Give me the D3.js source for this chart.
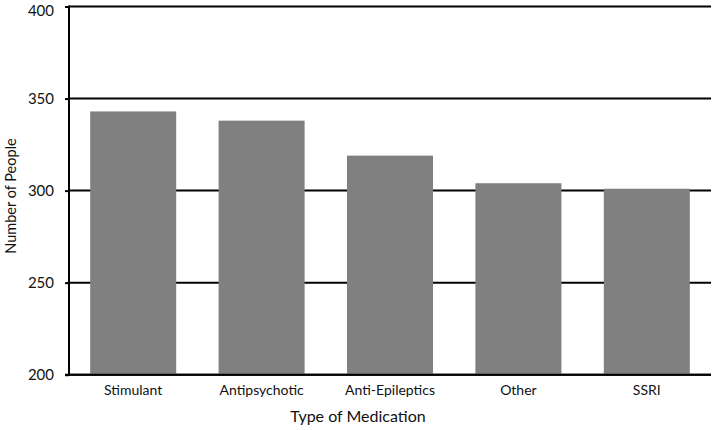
<!DOCTYPE html>
<html><head><meta charset="utf-8">
<script src="https://cdn.jsdelivr.net/npm/d3@7"></script>
<style>body{margin:0;background:#fff}svg{display:block}text{font-family:Lato,"Open Sans",sans-serif;fill:#111}</style>
</head><body><svg id="c" width="713" height="430"></svg>
<script>
const categories = ["Stimulant","Antipsychotic","Anti-Epileptics","Other","SSRI"];
const values = [343,338,319,304,301];
const yTicks = [200,250,300,350,400];

const svg = d3.select("#c");
const m = {l:69, r:711, t:6.5, b:374.7};
const x = d3.scaleBand().domain(categories).range([m.l, m.r]).paddingInner(0.33).paddingOuter(0.165);
const y = d3.scaleLinear().domain([200,400]).range([m.b, m.t]);

// gridlines
svg.append("g").selectAll("line").data(yTicks).join("line")
  .attr("x1", m.l).attr("x2", m.r).attr("y1", d=>y(d)).attr("y2", d=>y(d))
  .attr("stroke","#000").attr("stroke-width",2);

// bars
svg.append("g").selectAll("rect").data(values).join("rect")
  .attr("x",(d,i)=>x(categories[i])).attr("width",x.bandwidth())
  .attr("y",d=>y(d)).attr("height",d=>y(200)-y(d)).attr("fill","#808080");

// y axis
const ya = svg.append("g").attr("transform",`translate(${m.l},0)`)
  .call(d3.axisLeft(y).tickValues(yTicks).tickSize(4).tickPadding(11));
ya.select(".domain").attr("stroke","#000").attr("stroke-width",2).attr("d",`M0,${m.t-1}V${m.b+1}`);
ya.selectAll(".tick line").attr("stroke","#000").attr("stroke-width",2);
ya.selectAll("text").attr("font-size",15).attr("font-family","Lato, sans-serif").attr("fill","#111");
ya.selectAll(".tick").filter(d=>d===400).select("text").attr("dy","0.62em");

// x axis labels
const xa = svg.append("g").attr("transform",`translate(0,${m.b})`)
  .call(d3.axisBottom(x).tickSize(0).tickPadding(10));
xa.select(".domain").remove();
xa.selectAll("text").attr("font-size",14).attr("font-family","Lato, sans-serif").attr("fill","#111");

// bottom axis line over bars
svg.append("line").attr("x1",m.l-4).attr("x2",m.r).attr("y1",y(200)).attr("y2",y(200)).attr("stroke","#000").attr("stroke-width",2);

svg.append("text").attr("x",358).attr("y",422).attr("text-anchor","middle").attr("font-size",16).text("Type of Medication");
svg.append("text").attr("transform","translate(16,196) rotate(-90)").attr("text-anchor","middle").attr("font-size",14.5).text("Number of People");
</script></body></html>
